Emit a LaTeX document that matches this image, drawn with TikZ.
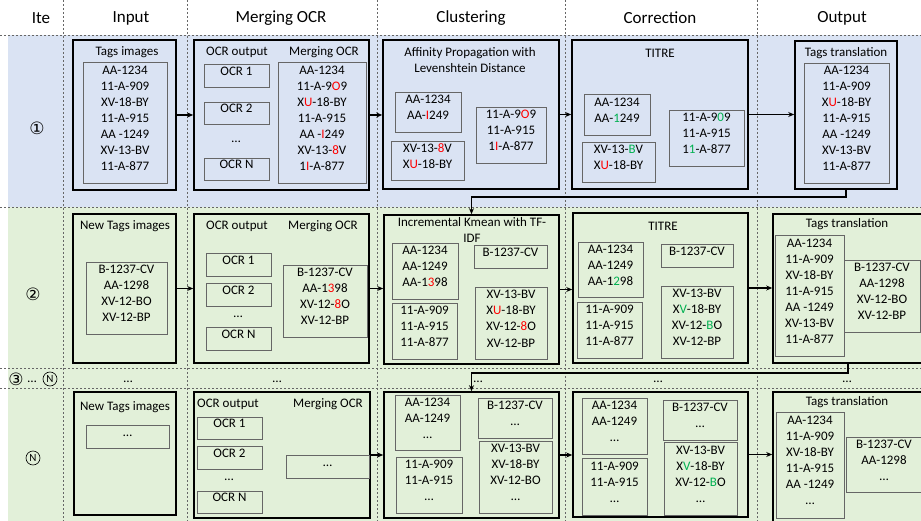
\documentclass[tikz,border=0pt]{standalone}
\usepackage{fontspec}
\setmainfont{Carlito}
\newfontfamily\symfont{DejaVu Sans}
\usepackage{tikz}
\usetikzlibrary{arrows.meta, fit, positioning}
\usepackage{xcolor}
\definecolor{rowblue}{HTML}{DAE3F3}
\definecolor{rowgreen}{HTML}{E2F0D9}
\definecolor{okgreen}{HTML}{00B050}
\newcommand{\tagfont}{\fontsize{13}{16}\selectfont}
\newcommand{\rd}[1]{\textcolor{red}{#1}}
\newcommand{\gr}[1]{\textcolor{okgreen}{#1}}
\tikzset{
  outer/.style={draw, line width=1.6pt, inner sep=0pt},
  inbox/.style={draw=black!60, line width=0.9pt, inner sep=0pt, align=center, font=\tagfont},
  lbl/.style={inner sep=0pt, align=center, font=\tagfont},
  head/.style={inner sep=0pt, font=\fontsize{17}{20}\selectfont},
  ite/.style={inner sep=0pt, font=\fontsize{17}{20}\symfont},
  circN/.style={draw, circle, line width=0.6pt, inner sep=0pt, minimum size=14pt, font=\fontsize{11}{12}\selectfont},
  flow/.style={-{Stealth[length=6pt,width=5pt]}, line width=1.6pt},
  gridline/.style={black!60, line width=0.6pt, dash pattern=on 2pt off 2pt},
}
\begin{document}
\begin{tikzpicture}[x=1pt, y=-1pt]
		\useasboundingbox (0,0) rectangle (921,521);
		\clip (0,0) rectangle (921,521);
		% rows
		\fill[rowblue] (8,35) rectangle (921,207);
		\fill[rowgreen] (8,207) rectangle (921,521);
		\foreach \y in {35,207,368,388} \draw[gridline] (0,\y) -- (921,\y);
		\foreach \x in {63,187,377,565,757} \draw[gridline] (\x,0) -- (\x,521);
		
		% header
		\node[head] (hIte) at (41,18) {Ite};
		\node[head] (hIn) at (131,18) {Input};
		\node[head] (hMg) at (281,18) {Merging OCR};
		\node[head] (hCl) at (471,18) {Clustering};
		\node[head] (hCo) at (660,18) {Correction};
		\node[head] (hOut) at (842,18) {Output};
		
		% iteration labels
		\node[ite] (it1) at (37,128) {①};
		\node[ite] (it2) at (33,294) {②};
		\node[ite] (it3) at (16,379) {③};
		\node[lbl] (it3d) at (32,382) {…};
		\node[circN] (it3n) at (50,379) {N};
		\node[circN] (itN) at (33,458) {N};
		\node[lbl] (dIn) at (128,382) {…};
		\node[lbl] (dMg) at (277,382) {…};
		\node[lbl] (dCl) at (478,382) {…};
		\node[lbl] (dCo) at (658,382) {…};
		\node[lbl] (dOut) at (847,382) {…};
		
		% row 1
		\node[outer, fit={(73,40) (176,190)}] (in1) {};
		\node[lbl] (in1t) at (127,52) {Tags images};
		\node[inbox, fit={(83,62) (167,183)}] (in1l) {AA-1234\\11-A-909\\XV-18-BY\\11-A-915\\AA -1249\\XV-13-BV\\11-A-877};
		
		\node[outer, fit={(194,40) (369,190)}] (mg1) {};
		\node[lbl] (mg1a) at (237,52) {OCR output};
		\node[lbl] (mg1b) at (324,52) {Merging OCR};
		\node[inbox, fit={(204,64) (269,87)}] (ocr11) {OCR 1};
		\node[inbox, fit={(204,102) (269,124)}] (ocr12) {OCR 2};
		\node[lbl] (ocr1d) at (236,142) {…};
		\node[inbox, fit={(204,158) (269,180)}] (ocr1n) {OCR N};
		\node[inbox, fit={(278,62) (366,183)}] (mg1l) {AA-1234\\11-A-9\rd{O}9\\X\rd{U}-18-BY\\11-A-915\\AA -\rd{I}249\\XV-13-\rd{8}V\\1\rd{I}-A-877};
		
		\node[outer, fit={(383,40) (559,189)}] (cl1) {};
		\node[lbl] (cl1t) at (470,60) {Affinity Propagation with\\Levenshtein Distance};
		\node[inbox, fit={(395,92) (461,132)}] (cl1a) {AA-1234\\AA-\rd{I}249};
		\node[inbox, fit={(391,141) (464,180)}] (cl1b) {XV-13-\rd{8}V\\X\rd{U}-18-BY};
		\node[inbox, fit={(476,107) (546,163)}] (cl1c) {11-A-9\rd{O}9\\11-A-915\\1\rd{I}-A-877};
		
		\node[outer, fit={(572,40) (748,189)}] (co1) {};
		\node[lbl] (co1t) at (660,53) {TITRE};
		\node[inbox, fit={(584,94) (650,135)}] (co1a) {AA-1234\\AA-\gr{1}249};
		\node[inbox, fit={(582,142) (655,182)}] (co1b) {XV-13-\gr{B}V\\X\rd{U}-18-BY};
		\node[inbox, fit={(669,110) (744,166)}] (co1c) {11-A-9\gr{0}9\\11-A-915\\1\gr{1}-A-877};
		
		\node[outer, fit={(795,41) (897,189)}] (out1) {};
		\node[lbl] (out1t) at (846,53) {Tags translation};
		\node[inbox, fit={(804,63) (889,183)}] (out1l) {AA-1234\\11-A-909\\X\rd{U}-18-BY\\11-A-915\\AA -1249\\XV-13-BV\\11-A-877};
		
		% row 2
		\node[outer, fit={(73,214) (176,363)}] (in2) {};
		\node[lbl] (in2t) at (125,226) {New Tags images};
		\node[inbox, fit={(86,262) (167,334)}] (in2l) {B-1237-CV\\AA-1298\\XV-12-BO\\XV-12-BP};
		
		\node[outer, fit={(194,214) (369,363)}] (mg2) {};
		\node[lbl] (mg2a) at (237,226) {OCR output};
		\node[lbl] (mg2b) at (323,226) {Merging OCR};
		\node[inbox, fit={(206,253) (271,276)}] (ocr21) {OCR 1};
		\node[inbox, fit={(206,283) (271,306)}] (ocr22) {OCR 2};
		\node[lbl] (ocr2d) at (238,317) {…};
		\node[inbox, fit={(206,327) (271,350)}] (ocr2n) {OCR N};
		\node[inbox, fit={(283,265) (367,337)}] (mg2l) {B-1237-CV\\AA-1\rd{3}98\\XV-12-\rd{8}O\\XV-12-BP};
		
		\node[outer, fit={(384,215) (559,364)}] (cl2) {};
		\node[lbl] (cl2t) at (472,230) {Incremental Kmean with TF-\\IDF};
		\node[inbox, fit={(392,243) (458,299)}] (cl2a) {AA-1234\\AA-1249\\AA-1\rd{3}98};
		\node[inbox, fit={(474,245) (547,268)}] (cl2b) {B-1237-CV};
		\node[inbox, fit={(392,303) (457,359)}] (cl2c) {11-A-909\\11-A-915\\11-A-877};
		\node[inbox, fit={(475,287) (547,359)}] (cl2d) {XV-13-BV\\X\rd{U}-18-BY\\XV-12-\rd{8}O\\XV-12-BP};
		
		\node[outer, fit={(573,213) (748,363)}] (co2) {};
		\node[lbl] (co2t) at (663,226) {TITRE};
		\node[inbox, fit={(578,242) (643,297)}] (co2a) {AA-1234\\AA-1249\\AA-1\gr{2}98};
		\node[inbox, fit={(661,244) (733,267)}] (co2b) {B-1237-CV};
		\node[inbox, fit={(577,302) (642,358)}] (co2c) {11-A-909\\11-A-915\\11-A-877};
		\node[inbox, fit={(661,286) (733,358)}] (co2d) {XV-13-BV\\X\gr{V}-18-BY\\XV-12-\gr{B}O\\XV-12-BP};
		
		\node[outer, fit={(773,214) (923,363)}] (out2) {};
		\node[lbl] (out2t) at (847,224) {Tags translation};
		\node[inbox, fit={(775,235) (844,356)}] (out2a) {AA-1234\\11-A-909\\XV-18-BY\\11-A-915\\AA -1249\\XV-13-BV\\11-A-877};
		\node[inbox, fit={(844,260) (920,332)}] (out2b) {B-1237-CV\\AA-1298\\XV-12-BO\\XV-12-BP};
		
		% row N
		\node[outer, fit={(74,392) (176,515)}] (inN) {};
		\node[lbl] (inNt) at (125,407) {New Tags images};
		\node[inbox, fit={(86,425) (169,448)}] (inNl) {…};
		
		\node[outer, fit={(194,392) (370,518)}] (mgN) {};
		\node[lbl] (mgNa) at (228,404) {OCR output};
		\node[lbl] (mgNb) at (328,404) {Merging OCR};
		\node[inbox, fit={(197,417) (262,439)}] (ocrN1) {OCR 1};
		\node[inbox, fit={(197,446) (262,469)}] (ocrN2) {OCR 2};
		\node[lbl] (ocrNd) at (229,480) {…};
		\node[inbox, fit={(197,491) (262,513)}] (ocrNn) {OCR N};
		\node[inbox, fit={(286,455) (369,478)}] (mgNl) {…};
		
		\node[outer, fit={(384,392) (559,518)}] (clN) {};
		\node[inbox, fit={(395,395) (460,450)}] (clNa) {AA-1234\\AA-1249\\…};
		\node[inbox, fit={(478,398) (552,438)}] (clNb) {B-1237-CV\\…};
		\node[inbox, fit={(396,457) (462,513)}] (clNc) {11-A-909\\11-A-915\\…};
		\node[inbox, fit={(479,441) (552,513)}] (clNd) {XV-13-BV\\XV-18-BY\\XV-12-BO\\…};
		
		\node[outer, fit={(573,392) (748,517)}] (coN) {};
		\node[inbox, fit={(582,398) (647,454)}] (coNa) {AA-1234\\AA-1249\\…};
		\node[inbox, fit={(663,400) (737,440)}] (coNb) {B-1237-CV\\…};
		\node[inbox, fit={(582,458) (647,515)}] (coNc) {11-A-909\\11-A-915\\…};
		\node[inbox, fit={(664,442) (737,515)}] (coNd) {XV-13-BV\\X\gr{V}-18-BY\\XV-12-\gr{B}O\\…};
		
		\node[outer, fit={(773,392) (923,522)}] (outN) {};
		\node[lbl] (outNt) at (847,402) {Tags translation};
		\node[inbox, fit={(776,412) (844,518)}] (outNa) {AA-1234\\11-A-909\\XV-18-BY\\11-A-915\\AA -1249\\…};
		\node[inbox, fit={(846,437) (922,492)}] (outNb) {B-1237-CV\\AA-1298\\…};
		
		% connectors
		\draw[flow] (in1.east) -- (in1.east -| mg1.west);
		\draw[flow] (mg1.east) -- (mg1.east -| cl1.west);
		\draw[flow] (cl1.east) -- (cl1.east -| co1.west);
		\draw[flow] (co1.east) -- (co1.east -| out1.west);
		\draw[flow] (in2.east) -- (in2.east -| mg2.west);
		\draw[flow] (mg2.east) -- (mg2.east -| cl2.west);
		\draw[flow] (cl2.east) -- (cl2.east -| co2.west);
		\draw[flow] (co2.east) -- (co2.east -| out2.west);
		\draw[flow] (mgN.east) -- (mgN.east -| clN.west);
		\draw[flow] (clN.east) -- (clN.east -| coN.west);
		\draw[flow] (coN.east) -- (coN.east -| outN.west);
		\draw[flow] (out1.south) -- ++(0,7) -| (cl2.north);
		\draw[flow] (out2.south) -- ++(0,9) -| (clN.north);
	\end{tikzpicture}
\end{document}
